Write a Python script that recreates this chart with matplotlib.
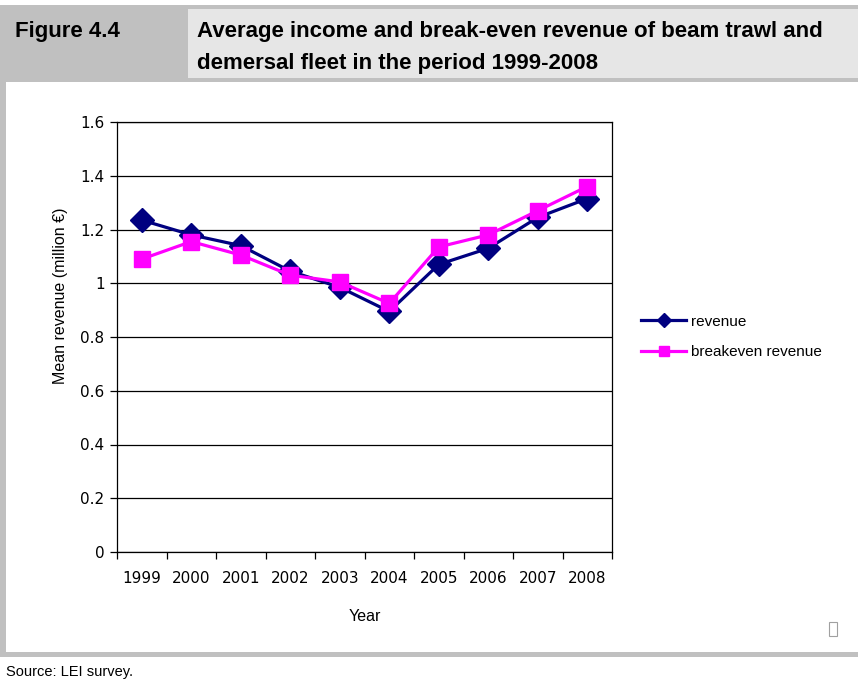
import matplotlib
matplotlib.use("Agg")
import matplotlib.pyplot as plt
from matplotlib.patches import Rectangle
from matplotlib.ticker import FuncFormatter, FixedLocator

# Mean revenue per vessel, beam trawl and demersal fleet (million euro)
years = ["1999", "2000", "2001", "2002", "2003", "2004", "2005", "2006", "2007", "2008"]
revenue = [1.235, 1.18, 1.14, 1.045, 0.985, 0.895, 1.07, 1.13, 1.245, 1.315]
breakeven = [1.09, 1.155, 1.105, 1.03, 1.005, 0.925, 1.135, 1.18, 1.27, 1.36]
yticks = [0, 0.2, 0.4, 0.6, 0.8, 1.0, 1.2, 1.4, 1.6]

W, H = 858, 682
narrow = ["Liberation Sans Narrow", "Liberation Sans", "DejaVu Sans"]

fig = plt.figure(figsize=(W / 100, H / 100), dpi=100)


def box(x0, y0, x1, y1, color):
    # pixel box measured from the top-left corner
    fig.add_artist(Rectangle((x0 / W, 1 - y1 / H), (x1 - x0) / W, (y1 - y0) / H,
                             transform=fig.transFigure, facecolor=color,
                             edgecolor="none", zorder=0))


# header and frame of the figure panel
box(0, 5, W, 82, "#c0c0c0")
box(188, 9, W, 78, "#e6e6e6")
box(0, 82, 6, 656, "#c0c0c0")
box(0, 652, W, 657, "#c0c0c0")

fig.text(15 / W, 1 - 31 / H, "Figure 4.4", family=narrow, weight="bold",
         fontsize=16, va="center", ha="left")
fig.text(197 / W, 1 - 31 / H, "Average income and break-even revenue of beam trawl and",
         family=narrow, weight="bold", fontsize=16, va="center", ha="left")
fig.text(197 / W, 1 - 63 / H, "demersal fleet in the period 1999-2008",
         family=narrow, weight="bold", fontsize=16, va="center", ha="left")
fig.text(6 / W, 1 - 672 / H, "Source: LEI survey.", family=narrow,
         fontsize=10.5, va="center", ha="left")

# small placeholder glyph at the lower right of the panel
fig.add_artist(Rectangle((829 / W, 1 - 636 / H), 8 / W, 14 / H,
                         transform=fig.transFigure, facecolor="none",
                         edgecolor="#a0a0a0", lw=0.8))

ax = fig.add_axes([117 / W, 1 - 552 / H, 495 / W, 430 / H])
x = list(range(len(years)))
ax.plot(x, revenue, color="#000080", lw=2.3, marker="D", ms=12,
        label="revenue", zorder=3)
ax.plot(x, breakeven, color="#ff00ff", lw=2.3, marker="s", ms=11,
        label="breakeven revenue", zorder=4)

ax.set_xlim(-0.5, len(years) - 0.5)
ax.set_ylim(0, 1.6)
ax.set_yticks(yticks)
ax.yaxis.set_major_formatter(FuncFormatter(lambda v, p: f"{v:g}"))
ax.grid(axis="y", color="black", lw=0.9)
ax.set_axisbelow(True)

ax.set_xticks(x)
ax.set_xticklabels(years)
ax.xaxis.set_minor_locator(FixedLocator([i - 0.5 for i in range(len(years) + 1)]))
ax.tick_params(axis="x", which="major", length=0, pad=14, labelsize=11)
ax.tick_params(axis="x", which="minor", length=5, width=0.9, direction="out")
ax.tick_params(axis="y", length=5, width=0.9, direction="out", labelsize=11, pad=4)
for s in ax.spines.values():
    s.set_linewidth(0.9)

ax.set_xlabel("Year", family=narrow, fontsize=11.5, labelpad=16)
ax.set_ylabel("Mean revenue (million \u20ac)", family=narrow, fontsize=11.5)
ax.yaxis.set_label_coords(-0.099, 0.595)

leg = ax.legend(loc="center left", bbox_to_anchor=(1.03, 0.5), frameon=False,
                prop={"family": narrow, "size": 11}, markerscale=0.6,
                handlelength=3.0, handletextpad=0.3, labelspacing=1.1)

fig.savefig("out.png", dpi=100)
